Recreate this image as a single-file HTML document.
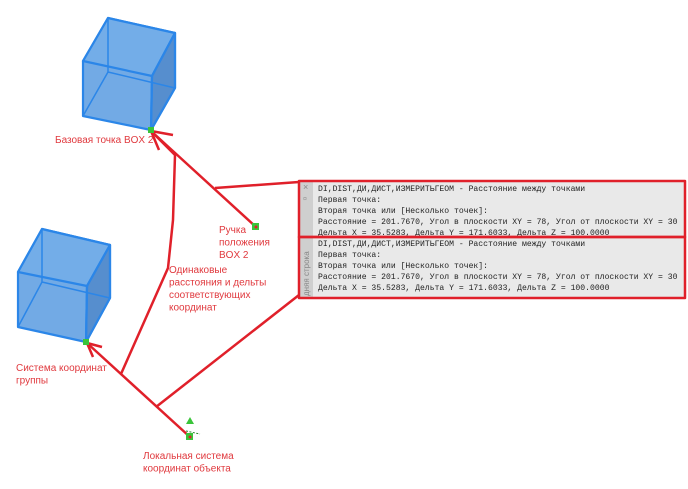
<!DOCTYPE html>
<html><head><meta charset="utf-8"><style>
body{margin:0;background:#fff;width:688px;height:489px;overflow:hidden}
svg{display:block}
.l{font-family:"Liberation Sans",sans-serif;font-size:10px;fill:#e0393e}
.m{font-family:"Liberation Mono",monospace;font-size:8.1px;fill:#222}
</style></head><body>
<svg width="688" height="489" viewBox="0 0 688 489">
<!-- top cube -->
<g stroke="#2b86e8" stroke-width="2.2" stroke-linejoin="round">
<polygon points="108,18 175,33 175,88 151,130 83,116 83,61" fill="#4f95df" fill-opacity="0.8"/>
<polygon points="108,18 175,33 152,76 83,61" fill="#74aeea" fill-opacity="0.7"/>
<polygon points="152,76 175,33 175,88 151,130" fill="#4a82c4" fill-opacity="0.7"/>
<polyline points="108,18 108,72 175,88" fill="none" stroke-width="1.5"/>
<line x1="108" y1="72" x2="83" y2="116" stroke-width="1.5"/>
<line x1="152" y1="76" x2="151" y2="130"/>
</g>
<!-- bottom cube -->
<g stroke="#2b86e8" stroke-width="2.2" stroke-linejoin="round">
<polygon points="42,229 110,245 110,298 86,342 18,327 18,272" fill="#4f95df" fill-opacity="0.8"/>
<polygon points="42,229 110,245 87,286 18,272" fill="#74aeea" fill-opacity="0.7"/>
<polygon points="87,286 110,245 110,298 86,342" fill="#4a82c4" fill-opacity="0.7"/>
<polyline points="42,229 42,282 110,298" fill="none" stroke-width="1.5"/>
<line x1="42" y1="282" x2="18" y2="327" stroke-width="1.5"/>
<line x1="87" y1="286" x2="86" y2="342"/>
</g>
<!-- command boxes -->
<rect x="299" y="181" width="386" height="117" fill="#e9e9e9"/>
<rect x="299" y="181" width="14" height="117" fill="#cfcfcf"/>
<text x="303" y="190" font-family="Liberation Sans" font-size="9" fill="#888">×</text>
<text x="303" y="201" font-family="Liberation Sans" font-size="7" fill="#999">¤</text>
<text transform="translate(309,296) rotate(-90)" font-family="Liberation Sans" font-size="8" fill="#888">дняя строка</text>
<g class="m">
<text x="318" y="191">DI,DIST,ДИ,ДИСТ,ИЗМЕРИТЬГЕОМ - Расстояние между точками</text>
<text x="318" y="202">Первая точка:</text>
<text x="318" y="213">Вторая точка или [Несколько точек]:</text>
<text x="318" y="224">Расстояние = 201.7670, Угол в плоскости XY = 78, Угол от плоскости XY = 30</text>
<text x="318" y="235">Дельта X = 35.5283, Дельта Y = 171.6033, Дельта Z = 100.0000</text>
<text x="318" y="246">DI,DIST,ДИ,ДИСТ,ИЗМЕРИТЬГЕОМ - Расстояние между точками</text>
<text x="318" y="257">Первая точка:</text>
<text x="318" y="268">Вторая точка или [Несколько точек]:</text>
<text x="318" y="279">Расстояние = 201.7670, Угол в плоскости XY = 78, Угол от плоскости XY = 30</text>
<text x="318" y="290">Дельта X = 35.5283, Дельта Y = 171.6033, Дельта Z = 100.0000</text>
</g>
<g fill="none" stroke="#e0202a" stroke-width="2.5" stroke-linejoin="round">
<rect x="299" y="181" width="386" height="56"/>
<rect x="299" y="237" width="386" height="61"/>
<polyline points="256,227 151,131"/>
<polyline points="215,188 299,182"/>
<polyline points="151,131 175,155 173,220 168,268 121,374"/>
<polyline points="190,437 87,343"/>
<polyline points="156,407 299,295"/>
<polyline points="173,135 151,131 159,150"/>
<polyline points="102,347 87,343 93,357"/>
</g>
<!-- green markers -->
<g fill="#3ac43a">
<rect x="252" y="223" width="7" height="7"/>
<rect x="186" y="433" width="7" height="7"/>
<rect x="83" y="339" width="6" height="6"/>
<rect x="148" y="127" width="6" height="6"/>
<polygon points="190,417 186,424 194,424"/>
</g>
<circle cx="256" cy="227" r="1.5" fill="#e0202a"/>
<circle cx="190" cy="437" r="1.5" fill="#e0202a"/>
<line x1="186" y1="431" x2="200" y2="434" stroke="#2a8a2a" stroke-width="1" stroke-dasharray="2,1.5"/>
<g class="l">
<text x="55" y="143">Базовая точка BOX 2</text>
<text x="219" y="233">Ручка</text>
<text x="219" y="245.5">положения</text>
<text x="219" y="258">BOX 2</text>
<text x="169" y="273">Одинаковые</text>
<text x="169" y="285.5">расстояния и дельты</text>
<text x="169" y="298">соответствующих</text>
<text x="169" y="310.5">координат</text>
<text x="16" y="371">Система координат</text>
<text x="16" y="383.5">группы</text>
<text x="143" y="459">Локальная система</text>
<text x="143" y="471.5">координат объекта</text>
</g>
</svg>
</body></html>
